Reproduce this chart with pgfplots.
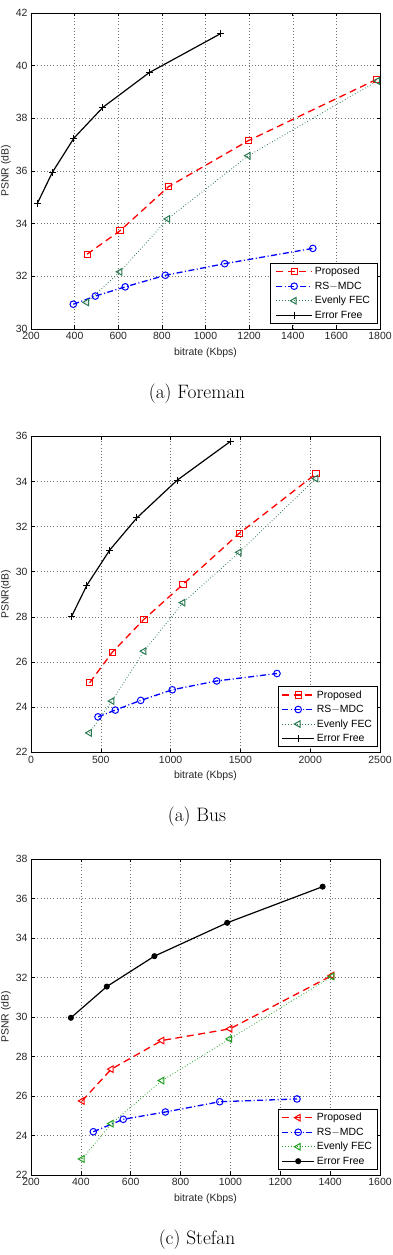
\documentclass[border=0pt]{standalone}
\usepackage{fontspec}
\usepackage{pgfplots}
\pgfplotsset{compat=1.18}
\newfontfamily\arialf{Liberation Sans}
\newcommand\tickfont{\arialf\fontsize{10.5}{12}\selectfont}
\newcommand\capfont{\fontsize{19.5}{22}\selectfont}

\definecolor{fecdark}{RGB}{40,120,80}
\definecolor{fecgreen}{RGB}{30,160,30}

\pgfplotsset{
  psnr/.style={
    scale only axis, width=349bp, height=316bp,
    axis line style={line width=0.9bp},
    every tick/.style={black, line width=0.6bp},
    major tick length=3.5bp,
    tick align=inside, xtick pos=both, ytick pos=both,
    grid=major,
    major grid style={black!55, line width=0.5bp, dash pattern=on 0.6bp off 2.6bp},
    ticklabel style={font=\tickfont, text=black!85},
    /pgf/number format/.cd, 1000 sep={}, assume math mode=true, /pgfplots/.cd,
    label style={font=\tickfont, text=black!85},
    xlabel style={at={(axis description cs:0.5,0)}, anchor=center, yshift=-23.5bp},
    ylabel style={at={(axis description cs:-0.0716,0.5)}, anchor=center},
    xlabel={bitrate (Kbps)},
    legend style={at={(1,0)}, anchor=south east, xshift=-2.5bp, yshift=5bp,
      font=\tickfont, draw=black, line width=0.9bp, inner xsep=3bp, inner ysep=2bp,
      row sep=1.6bp, cells={anchor=west}},
    legend cell align=left,
    legend image code/.code={%
      \draw[mark repeat=2, mark phase=2, #1]
        plot coordinates {(0bp,0bp) (16bp,0bp) (32bp,0bp)};},
  },
  prop/.style={red, line width=1.3bp, dash pattern=on 7bp off 4.5bp},
  rsmdc/.style={blue, line width=1.3bp, dash pattern=on 6bp off 2.5bp on 1bp off 2.5bp,
    mark=o, mark size=3.3bp, mark options={solid, line width=1bp}},
  even/.style={line width=0.9bp, dash pattern=on 0.7bp off 2.2bp,
    mark=triangle, mark size=3.8bp, mark options={solid, rotate=90, line width=1bp}},
  free/.style={black, line width=1.2bp},
}

\begin{document}
\begin{tikzpicture}
\useasboundingbox (0bp,0bp) rectangle (393bp,1255bp);

% ---------------- Foreman ----------------
\begin{axis}[psnr, at={(31bp,926bp)}, anchor=south west,
  xmin=200, xmax=1800, ymin=30, ymax=42,
  xtick={200,400,...,1800}, ytick={30,32,...,42},
  ylabel={PSNR (dB)},
  legend style={inner xsep=5bp},
  legend image code/.code={%
    \draw[mark repeat=2, mark phase=2, #1]
      plot coordinates {(0bp,0bp) (18bp,0bp) (36bp,0bp)};}]
\addplot[prop, mark=square, mark size=3.1bp, mark options={solid, line width=0.9bp}] coordinates {
  (457,32.84) (608,33.73) (830,35.40) (1196,37.15) (1785,39.48)};
\addlegendentry{Proposed\hspace{8bp}}
\addplot[rsmdc] coordinates {
  (394,30.94) (495,31.25) (632,31.60) (816,32.04) (1088,32.48) (1492,33.06)};
\addlegendentry{RS$-$MDC}
\addplot[even, color=fecdark] coordinates {
  (455,31.01) (608,32.17) (827,34.18) (1196,36.58) (1788,39.42)};
\addlegendentry{Evenly FEC}
\addplot[free, mark=+, mark size=3.5bp, mark options={line width=1bp}] coordinates {
  (228,34.75) (298,35.95) (397,37.25) (530,38.42) (741,39.73) (1068,41.21)};
\addlegendentry{Error Free}
\end{axis}
\node[font=\capfont] at (197bp,861bp) {(a) Foreman};

% ---------------- Bus ----------------
\begin{axis}[psnr, at={(31bp,502.7bp)}, anchor=south west,
  xmin=0, xmax=2500, ymin=22, ymax=36,
  xtick={0,500,...,2500}, ytick={22,24,...,36},
  ylabel={PSNR(dB)}]
\addplot[prop, mark=square, mark size=3.1bp, mark options={solid, line width=0.9bp}] coordinates {
  (420,25.08) (582,26.43) (809,27.89) (1089,29.44) (1492,31.70) (2041,34.34)};
\addlegendentry{Proposed}
\addplot[rsmdc] coordinates {
  (480,23.57) (604,23.87) (786,24.30) (1012,24.77) (1330,25.16) (1762,25.49)};
\addlegendentry{RS$-$MDC}
\addplot[even, color=fecdark] coordinates {
  (418,22.86) (580,24.27) (809,26.48) (1089,28.63) (1492,30.86) (2041,34.13)};
\addlegendentry{Evenly FEC}
\addplot[free, mark=+, mark size=3.5bp, mark options={line width=1bp}] coordinates {
  (289,28.00) (401,29.41) (564,30.96) (759,32.39) (1046,34.05) (1430,35.78)};
\addlegendentry{Error Free}
\end{axis}
\node[font=\capfont] at (197bp,438bp) {(a) Bus};

% ---------------- Stefan ----------------
\begin{axis}[psnr, at={(31bp,80bp)}, anchor=south west,
  xmin=200, xmax=1600, ymin=22, ymax=38,
  xtick={200,400,...,1600}, ytick={22,24,...,38},
  ylabel={PSNR (dB)}]
\addplot[prop, mark=triangle, mark size=3.8bp, mark options={solid, rotate=90, line width=1bp}] coordinates {
  (405,25.75) (522,27.36) (725,28.81) (998,29.40) (1407,32.10)};
\addlegendentry{Proposed}
\addplot[rsmdc] coordinates {
  (450,24.19) (570,24.82) (739,25.19) (957,25.71) (1267,25.85)};
\addlegendentry{RS$-$MDC}
\addplot[even, color=fecgreen] coordinates {
  (405,22.81) (522,24.60) (725,26.78) (997,28.89) (1407,32.05)};
\addlegendentry{Evenly FEC}
\addplot[free, mark=*, mark size=2.4bp] coordinates {
  (360,29.96) (504,31.54) (695,33.08) (987,34.77) (1370,36.60)};
\addlegendentry{Error Free}
\end{axis}
\node[font=\capfont] at (197bp,15bp) {(c) Stefan};
\end{tikzpicture}
\end{document}
